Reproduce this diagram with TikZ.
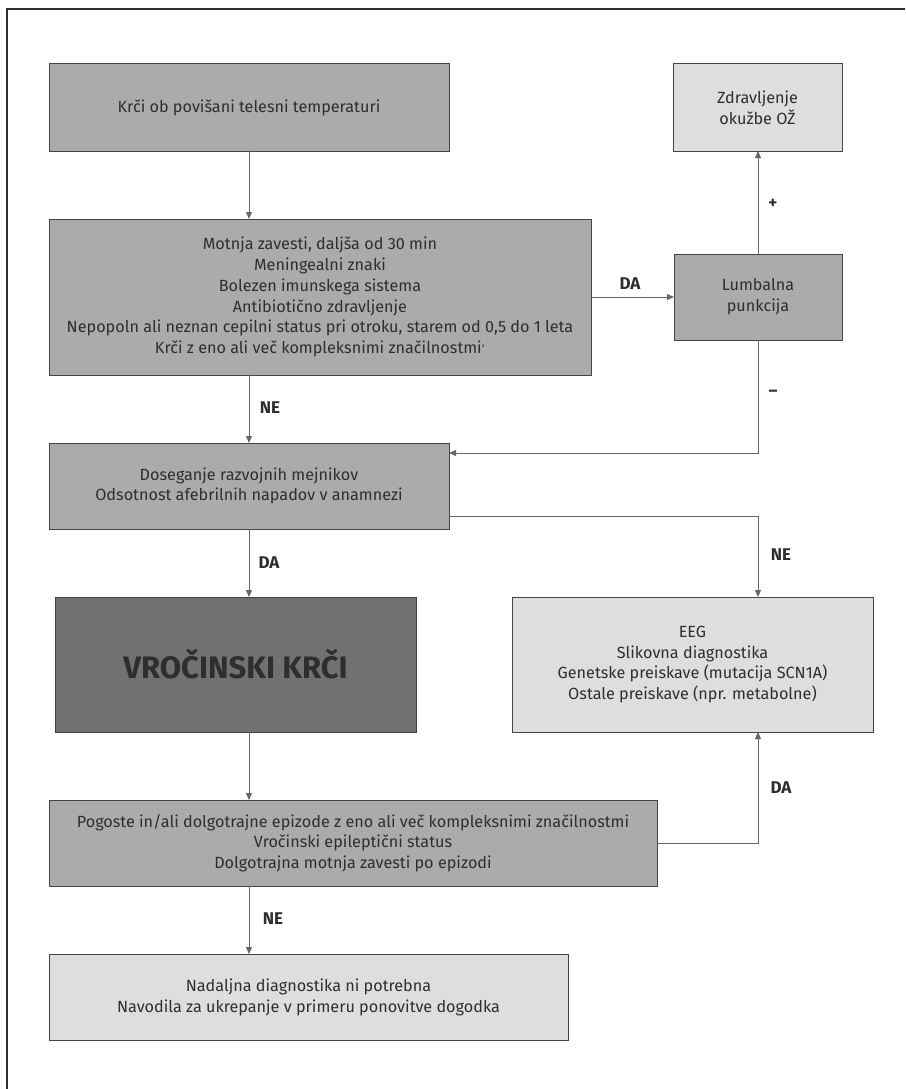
\documentclass[tikz,border=0pt]{standalone}
\usepackage{fontspec}
\setmainfont{Fira Sans}
\usetikzlibrary{arrows.meta,calc}
\definecolor{midgray}{HTML}{ABABAB}
\definecolor{lightgray}{HTML}{DEDEDE}
\definecolor{darkgray}{HTML}{717171}
\definecolor{txt}{HTML}{2E2E2E}
\definecolor{edge}{HTML}{444444}
\definecolor{conn}{HTML}{666666}
\tikzset{
  box/.style={draw=edge, line width=1pt, inner sep=0pt, outer sep=0pt, align=center,
    text=txt, font=\fontsize{16.2}{20.8}\selectfont},
  midbox/.style={box, fill=midgray},
  lightbox/.style={box, fill=lightgray},
  darkbox/.style={box, fill=darkgray},
  conn/.style={draw=conn, line width=1pt, -{Triangle[length=7pt,width=6pt]}, color=conn},
  lbl/.style={text=txt, font=\fontsize{17}{18}\selectfont\bfseries, inner sep=0pt}
}
\begin{document}
\begin{tikzpicture}[x=1pt,y=-1pt]
\useasboundingbox (0,0) rectangle (905,1089);
\draw[line width=1.6pt, draw=txt] (7,1089) -- (7,9) -- (905,9);

\node[midbox, minimum width=400, minimum height=87] (b1) at (249,107.5) {Krči ob povišani telesni temperaturi};
\node[midbox, minimum width=542, minimum height=156] (b2) at (320,297) {Motnja zavesti, daljša od 30 min\\Meningealni znaki\\Bolezen imunskega sistema\\Antibiotično zdravljenje\\Nepopoln ali neznan cepilni status pri otroku, starem od 0,5 do 1 leta\\Krči z eno ali več kompleksnimi značilnostmi\textsuperscript{\tiny a}};
\node[lightbox, minimum width=169, minimum height=87] (zdr) at (757.5,107.5) {Zdravljenje\\okužbe OŽ};
\node[midbox, minimum width=168, minimum height=86] (lumb) at (758,297) {Lumbalna\\punkcija};
\node[midbox, minimum width=400, minimum height=86] (b3) at (249,486) {Doseganje razvojnih mejnikov\\Odsotnost afebrilnih napadov v anamnezi};
\node[darkbox, minimum width=361, minimum height=135, font=\fontsize{31}{34}\selectfont\bfseries] (vroc) at (235.5,664.5) {VROČINSKI KRČI};
\node[lightbox, minimum width=361, minimum height=135] (eeg) at (692.5,664.5) {EEG\\Slikovna diagnostika\\Genetske preiskave (mutacija SCN1A)\\Ostale preiskave (npr. metabolne)};
\node[midbox, minimum width=608, minimum height=86] (pog) at (353,843) {Pogoste in/ali dolgotrajne epizode z eno ali več kompleksnimi značilnostmi\\Vročinski epileptični status\\Dolgotrajna motnja zavesti po epizodi};
\node[lightbox, minimum width=519, minimum height=86] (nad) at (308.5,997) {Nadaljna diagnostika ni potrebna\\Navodila za ukrepanje v primeru ponovitve dogodka};

\coordinate (lumbin) at ($(b3.north east)+(0,10)$);
\coordinate (b3out) at ($(b3.south east)+(0,-13)$);

\draw[conn] (b1.south) -- (b1.south |- b2.north);
\draw[conn] (b2.east) -- (lumb.west);
\draw[conn] (lumb.north) -- (lumb.north |- zdr.south);
\draw[conn] (lumb.south) -- (lumb.south |- lumbin) -- (lumbin);
\draw[conn] (b3.north |- b2.south) -- (b3.north);
\draw[conn] (b3out) -- (lumb.south |- b3out) -- (lumb.south |- eeg.north);
\draw[conn] (b3.south) -- (b3.south |- vroc.north);
\draw[conn] (b3.south |- vroc.south) -- (b3.south |- pog.north);
\draw[conn] (pog.east) -- (lumb.south |- pog.east) -- (lumb.south |- eeg.south);
\draw[conn] (b3.south |- pog.south) -- (b3.south |- nad.north);

\node[lbl] (lda1) at (630,284) {DA};
\node[lbl] (lplus) at (773,204) {+};
\node[lbl] (lminus) at (773,393) {–};
\node[lbl] (lne1) at (270,408) {NE};
\node[lbl] (lda2) at (269,563) {DA};
\node[lbl] (lne2) at (781,555) {NE};
\node[lbl] (lda3) at (781,788) {DA};
\node[lbl] (lne3) at (273,919) {NE};
\end{tikzpicture}
\end{document}
